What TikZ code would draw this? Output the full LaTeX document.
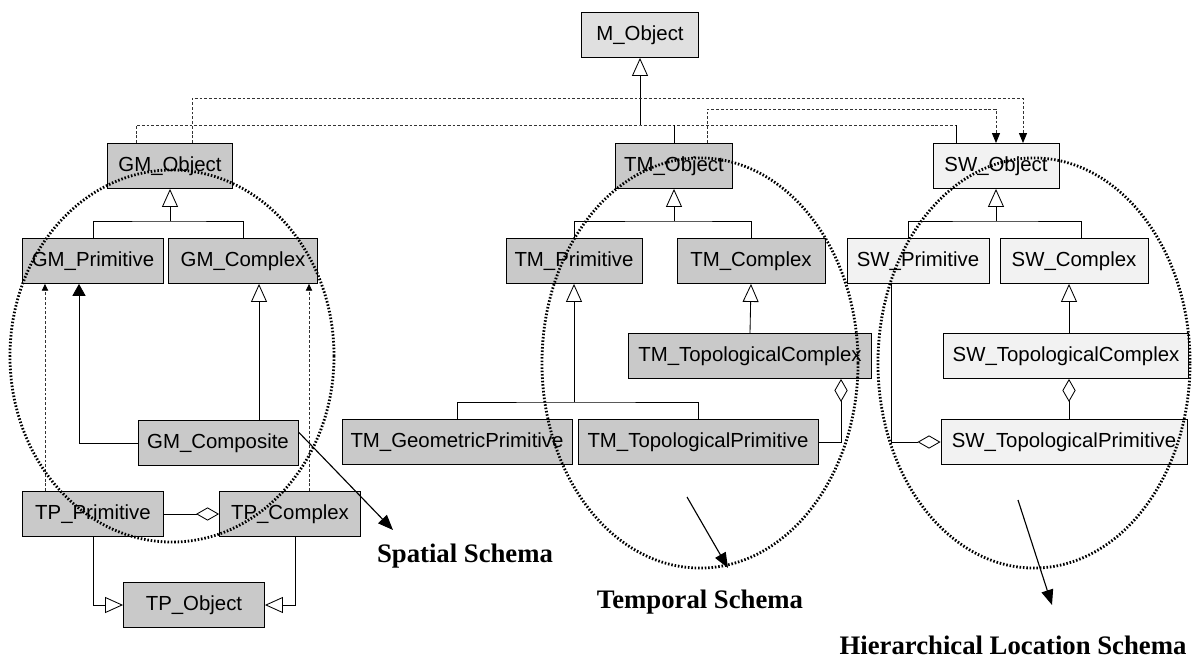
\documentclass[tikz,border=0pt]{standalone}
\usepackage{fontspec}
\setmainfont{Liberation Serif}
\setsansfont{Liberation Sans}
\usetikzlibrary{arrows.meta,positioning,calc}

\tikzset{
  cls/.style={draw, line width=0.6pt, fill=gray!42, inner sep=0pt,
    minimum height=1.125cm, font=\sffamily\fontsize{14.5}{16}\selectfont},
  rootcls/.style={cls, fill=gray!24},
  swcls/.style={cls, fill=gray!10},
  gen/.style={line width=0.6pt, line join=miter,
    -{Triangle[fill=white, length=0.45cm, width=0.4cm]}},
  agg/.style={line width=0.6pt, line join=miter,
    {Diamond[fill=white, length=0.575cm, width=0.33cm]}-},
  dep/.style={line width=0.6pt, black!80, dash pattern=on 2pt off 1.4pt,
    -{Triangle[black, length=0.25cm, width=0.2cm]}},
  depsmall/.style={dep, -{Triangle[black, length=0.17cm, width=0.16cm]}},
  busdash/.style={line width=0.6pt, black!80, dash pattern=on 2pt off 1.4pt},
  ring/.style={line width=2pt, black, dash pattern=on 1.1pt off 1.3pt},
  pointer/.style={line width=0.8pt, -{Triangle[length=0.38cm, width=0.3cm]}},
  schema/.style={font=\bfseries\fontsize{19}{21}\selectfont}
}

\begin{document}
\begin{tikzpicture}[x=0.025cm, y=-0.025cm]
  \useasboundingbox (0,0) rectangle (1199,665);

  %% Root class
  \node[rootcls, minimum width=2.925cm] (mobj) at (640,35) {M\_Object};

  %% Schema root classes
  \node[cls, minimum width=3.125cm] (gmobj) at (170,166) {GM\_Object};
  \node[cls, minimum width=2.925cm] (tmobj) at (674,166) {TM\_Object};
  \node[swcls, minimum width=3.15cm] (swobj) at (996,166) {SW\_Object};

  %% Spatial classes
  \node[cls, minimum width=3.525cm] (gmprim) at (93,261) {GM\_Primitive};
  \node[cls, minimum width=3.725cm] (gmcplx) at (243,261) {GM\_Complex};
  \node[cls, minimum width=4cm] (gmcomp) at (218,443) {GM\_Composite};
  \node[cls, minimum width=3.525cm] (tpprim) at (93,514) {TP\_Primitive};
  \node[cls, minimum width=3.525cm] (tpcplx) at (290,514) {TP\_Complex};
  \node[cls, minimum width=3.525cm] (tpobj) at (194,605) {TP\_Object};

  %% Temporal classes
  \node[cls, minimum width=3.4cm] (tmprim) at (574,261) {TM\_Primitive};
  \node[cls, minimum width=3.7cm] (tmcplx) at (751,261) {TM\_Complex};
  \node[cls, minimum width=6.075cm] (tmtc) at (750,356) {TM\_TopologicalComplex};
  \node[cls, minimum width=5.75cm] (tmgeo) at (457,442) {TM\_GeometricPrimitive};
  \node[cls, minimum width=6cm] (tmtopo) at (698,442) {TM\_TopologicalPrimitive};

  %% Hierarchical location classes
  \node[swcls, minimum width=3.55cm] (swprim) at (918,261) {SW\_Primitive};
  \node[swcls, minimum width=3.7cm] (swcplx) at (1074,261) {SW\_Complex};
  \node[swcls, minimum width=6.125cm] (swtc) at (1066,356) {SW\_TopologicalComplex};
  \node[swcls, minimum width=6.15cm] (swtp) at (1064,442) {SW\_TopologicalPrimitive};

  %% Helper points
  \coordinate (bus) at (640,125);
  \coordinate (depA) at (1023,98);
  \coordinate (depB) at (996,109);
  \coordinate (swstub) at ([xshift=-1cm]swobj.north);
  \coordinate (gmj) at (170,221);
  \coordinate (tmj) at (674,221);
  \coordinate (swj) at (996,221);
  \coordinate (tmpj) at (574,402);
  \coordinate (gmc) at ([xshift=0.4cm]gmcplx.south);
  \coordinate (gmp) at ([xshift=-0.35cm]gmprim.south);
  \coordinate (tpp) at ([xshift=-1.2cm]tpprim.north);
  \coordinate (tpc) at ([xshift=0.475cm]tpcplx.north);
  \coordinate (tmd) at ([xshift=2.275cm]tmtc.south);
  \coordinate (swc) at ([xshift=-0.125cm]swcplx.south);
  \coordinate (swp) at ([xshift=-0.675cm]swprim.south);

  %% Top level bus and dependencies
  \draw[gen] (bus) -- (mobj.south);
  \draw[busdash] ([xshift=-0.85cm]gmobj.north) |- (bus) -- (bus -| swstub);
  \draw[line width=0.6pt] (tmobj.north) -- (tmobj.north |- bus);
  \draw[line width=0.6pt] (swstub) -- (swstub |- bus);
  \draw[dep] ([xshift=0.55cm]gmobj.north) |- (depA) -- (depA |- swobj.north);
  \draw[dep] ([xshift=0.825cm]tmobj.north) |- (depB) -- (swobj.north);

  %% Spatial schema links
  \draw[line width=0.6pt] (gmprim.north) |- (gmj) -| (gmcplx.north);
  \draw[gen] (gmj) -- (gmobj.south);
  \draw[gen] (gmc |- gmcomp.north) -- (gmc);
  \draw[agg, -{Triangle[length=0.3cm, width=0.33cm]}] (gmcomp.west) -| (gmp);
  \draw[depsmall] (tpp) -- (tpp |- gmprim.south);
  \draw[depsmall] (tpc) -- (tpc |- gmcplx.south);
  \draw[agg] (tpcplx.west) -- (tpprim.east);
  \draw[gen] (tpprim.south) |- (tpobj.west);
  \draw[gen] ([xshift=0.125cm]tpcplx.south) |- (tpobj.east);

  %% Temporal schema links
  \draw[line width=0.6pt] (tmprim.north) |- (tmj) -| (tmcplx.north);
  \draw[gen] (tmj) -- (tmobj.south);
  \draw[line width=0.6pt] (tmgeo.north) |- (tmpj) -| (tmtopo.north);
  \draw[gen] (tmpj) -- (tmprim.south);
  \draw[gen] (tmtc.north) -- (tmcplx.south);
  \draw[agg] (tmd) |- (tmtopo.east);

  %% Hierarchical location schema links
  \draw[line width=0.6pt] ([xshift=-0.25cm]swprim.north) |- (swj)
    -| ([xshift=0.175cm]swcplx.north);
  \draw[gen] (swj) -- (swobj.south);
  \draw[gen] (swc |- swtc.north) -- (swc);
  \draw[agg] (swc |- swtc.south) -- (swc |- swtp.north);
  \draw[agg] (swtp.west) -| (swp);

  %% Schema outlines
  \draw[ring] (172,356) ellipse [x radius=4.05cm, y radius=4.65cm];
  \draw[ring] (700,363) ellipse [x radius=3.95cm, y radius=5.125cm];
  \draw[ring] (1034,363) ellipse [x radius=3.9cm, y radius=5.125cm];

  %% Schema labels
  \node[schema] (spatial) at (465,556) {Spatial Schema};
  \node[schema] (temporal) at (700,602) {Temporal Schema};
  \node[schema] (hier) at (1013,645) {Hierarchical Location Schema};
  \coordinate (spA) at ([yshift=0.275cm]gmcomp.east);
  \coordinate (spB) at (393,530);
  \coordinate (teA) at (687,497);
  \coordinate (teB) at (728,568);
  \coordinate (hiA) at (1018,500);
  \coordinate (hiB) at (1052,605);
  \draw[pointer] (spA) -- (spB);
  \draw[pointer] (teA) -- (teB);
  \draw[pointer] (hiA) -- (hiB);
\end{tikzpicture}
\end{document}
